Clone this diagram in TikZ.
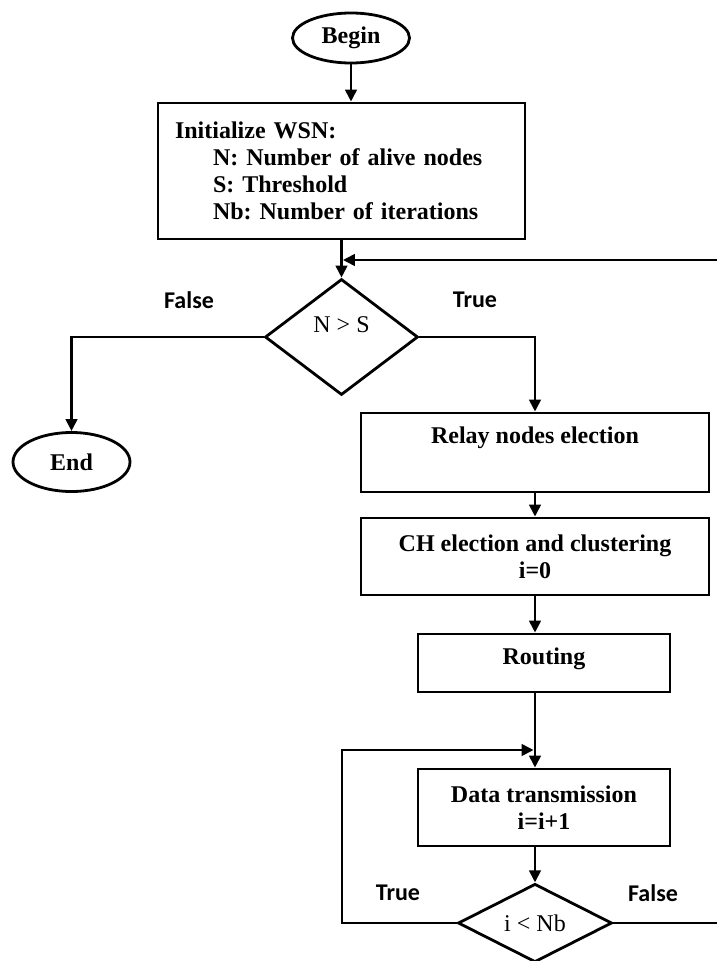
\documentclass[tikz,border=0pt]{standalone}
\usepackage{fontspec}
\setmainfont{Liberation Serif}
\newfontfamily\lblfont{Carlito}
\usetikzlibrary{shapes.geometric,arrows.meta}
\frenchspacing

\begin{document}
\begin{tikzpicture}[x=1pt,y=-1pt,line width=2.8pt,
  box/.style={draw,rectangle,inner sep=0pt,align=center,font=\fontsize{24}{27}\selectfont\bfseries},
  term/.style={draw,ellipse,inner sep=0pt,font=\fontsize{24}{27}\selectfont\bfseries},
  test/.style={draw,diamond,inner sep=0pt,font=\fontsize{24}{27}\selectfont},
  lbl/.style={font=\lblfont\fontsize{24}{27}\selectfont\bfseries},
  arr/.style={-{Triangle[length=12pt,width=11.5pt]}}]
\useasboundingbox (0,0) rectangle (716,961);
\node[term,minimum width=117pt,minimum height=50pt] (Beg) at (351,38) {Begin};
\node[box,align=left,text width=333pt,inner xsep=17pt,minimum height=136pt] (Init) at (341.5,171) {Initialize WSN:\\
  \hspace*{38pt}N: Number of alive nodes\\
  \hspace*{38pt}S: Threshold\\
  \hspace*{38pt}Nb: Number of iterations};
\node[test,minimum width=153pt,minimum height=116pt,text depth=25pt] (D1) at (341.5,337) {N > S};
\node[term,minimum width=117pt,minimum height=59pt] (End) at (71.5,462) {End};
\node[box,minimum width=348pt,minimum height=79pt] (Relay) at (535,452.5) {Relay nodes election\\\strut};
\node[box,minimum width=348pt,minimum height=77pt] (CH) at (535,556.5) {CH election and clustering\\i=0};
\node[box,minimum width=252pt,minimum height=58pt,text depth=13pt] (Rout) at (544,663) {Routing};
\node[box,minimum width=252pt,minimum height=77pt] (Data) at (544,807.5) {Data transmission\\i=i+1};
\node[test,minimum width=154pt,minimum height=76pt] (D2) at (535,923) {i < Nb};
\node[lbl] (F1) at (189,300) {False};
\node[lbl] (T1) at (475,300) {True};
\node[lbl] (T2) at (398,893) {True};
\node[lbl] (F2) at (653,893) {False};
\coordinate (J1) at (341.5,260);
\coordinate (Rc) at (730,260);
\coordinate (J2) at (535,750);
\coordinate (Lc) at (342,750);
\draw[arr] (Beg) -- (Beg |- Init.north);
\draw[arr] (Init) -- (D1);
\draw[arr] (D1.west) -| (End);
\draw[arr] (D1.east) -| (Relay);
\draw[arr] (Relay) -- (CH);
\draw[arr] (CH.south) -- (CH.south |- Rout.north);
\draw[arr] (Rout.south -| D2) -- (Data.north -| D2);
\draw[arr] (Data.south -| D2) -- (D2);
%loops
\draw[arr,shorten >=1.4pt] (D2.west) -| (Lc) -- (J2);
\draw[arr,shorten >=1.4pt] (D2.east) -| (Rc) -- (J1);
\end{tikzpicture}
\end{document}
